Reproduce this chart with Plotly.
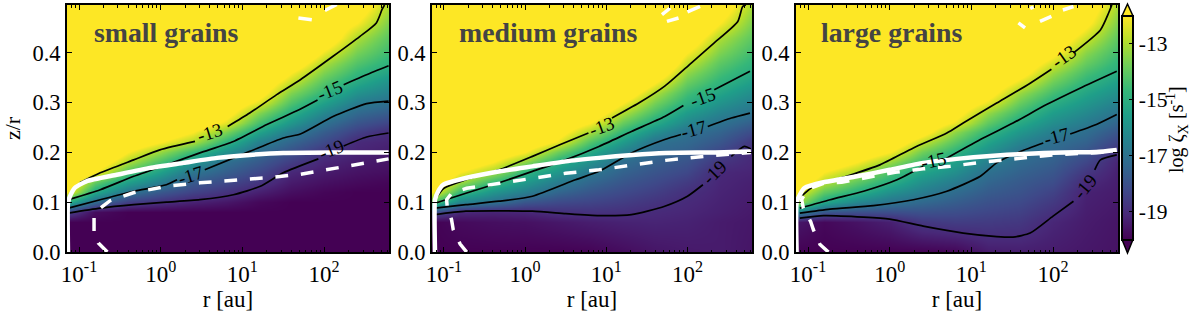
import plotly.graph_objects as go

W, H = 1200, 312
FONT = "Liberation Serif"

# log10(r/au) of the field columns and z/r of the field rows
col_logr = [-1.15, -0.8, -0.4, 0, 0.4, 0.8, 1.2, 1.6, 2, 2.4, 2.8]
rows = [0, .06, .08, .10, .12, .14, .16, .18, .20, .22, .24, .26, .28, .30, .32, .34, .36, .38, .40, .43, .46, .50]
# Values above the colour range, used over the yellow part of each column
above_range = [-11, -10]

# log zeta_X by column, from the midplane upward; rows above a list's end are saturated
small_field = [
    [-20,-20,-18.4,-15,-12],
    [-20,-20,-19.75,-17.25,-15.2,-13.9,-12],
    [-20,-20,-20,-18.5,-16.9,-15.5,-14.2,-13,-12],
    [-20,-20,-20,-18.9,-17.8,-16.6,-15.5,-14.4,-13.3,-12],
    [-20,-20,-20,-19.25,-18.4,-17.7,-16.9,-15.8,-14.6,-13,-12],
    [-20,-20,-20,-19.5,-18.8,-18.2,-17.6,-17.1,-16,-14.8,-13.6,-12.3,-11.5],
    [-20,-20,-20,-19.85,-19.3,-18.75,-18.25,-17.75,-17.25,-16.5,-15.4,-14.4,-13.5,-12.35,-11.5],
    [-20,-20,-20,-20,-19.7,-19.4,-19.1,-18.55,-18,-17.4,-16.7,-15.8,-15,-14.25,-13.55,-12.75,-12],
    [-20,-20,-20,-20,-19.9,-19.65,-19.4,-19.15,-18.8,-18.2,-17.65,-17.05,-16.3,-15.5,-14.75,-14.2,-13.6,-13,-12.2,-11],
    [-20,-20,-20,-20,-20,-19.8,-19.6,-19.4,-19.2,-19.05,-18.5,-17.9,-17.3,-16.65,-15.95,-15.25,-14.7,-14.2,-13.7,-13,-12,-11],
    [-20,-20,-20,-20,-20,-19.9,-19.7,-19.55,-19.35,-19.2,-19,-18.35,-17.7,-17.1,-16.5,-16,-15.4,-14.9,-14.55,-14.1,-13.6,-12.9],
]
medium_field = [
    [-20,-20,-18,-14.1,-12],
    [-20,-19.8,-19.1,-16.4,-14.65,-13.15,-12],
    [-20,-19.7,-19.2,-17,-15.85,-14.6,-13.1,-12],
    [-20,-19.65,-19.15,-17.85,-16.6,-15.7,-14.8,-13.4,-12],
    [-20,-19.5,-18.9,-18.2,-17.4,-16.65,-15.8,-15,-13.8,-12.2,-11.5],
    [-19.95,-19.35,-18.85,-18.35,-17.85,-17.35,-16.8,-16,-15.2,-14.2,-13.05,-12],
    [-19.75,-19.25,-18.9,-18.55,-18.2,-17.85,-17.5,-17.15,-16.55,-15.65,-14.75,-13.9,-13,-12],
    [-19.55,-19.2,-19.05,-18.8,-18.5,-18.2,-17.9,-17.6,-17.3,-17,-16.05,-15.15,-14.4,-13.7,-13,-12],
    [-19.45,-19.25,-19.15,-19.05,-18.9,-18.6,-18.25,-17.95,-17.6,-17.3,-17,-16.3,-15.65,-14.95,-14.45,-13.9,-13.35,-12.7,-12],
    [-19.4,-19.4,-19.3,-19.25,-19.2,-19.15,-19.1,-18.75,-18.3,-17.85,-17.45,-17,-16.45,-15.9,-15.35,-14.85,-14.45,-14.05,-13.6,-13,-12,-11],
    [-19.55,-19.5,-19.45,-19.4,-19.35,-19.3,-19.2,-19.1,-19.05,-18.7,-18.15,-17.6,-17,-16.55,-16.1,-15.6,-15.15,-14.8,-14.5,-14.05,-13.6,-13],
]
large_field = [
    [-20,-19.5,-16.4,-13,-12],
    [-20,-19.85,-17.85,-15.25,-14,-12.85,-12],
    [-20,-19.6,-18.05,-16.3,-14.95,-14,-13,-12],
    [-20,-19.3,-18.1,-16.9,-15.95,-15,-14.3,-13.25,-12],
    [-20,-18.7,-18,-17.3,-16.6,-16,-15.35,-14.6,-13.75,-12.7,-11.5],
    [-19.9,-18.55,-18.1,-17.65,-17.2,-16.65,-16.05,-15.5,-14.85,-14.1,-13.35,-12.2,-11.5],
    [-19.4,-18.6,-18.3,-18,-17.7,-17.4,-17.05,-16.55,-16,-15.4,-14.75,-14,-13.3,-12.25,-11.5],
    [-19.35,-18.7,-18.45,-18.2,-17.95,-17.75,-17.5,-17.25,-17,-16.4,-15.8,-15.2,-14.55,-13.9,-13.25,-12.35,-11.5],
    [-19.4,-19.15,-18.9,-18.65,-18.4,-18.1,-17.85,-17.6,-17.35,-17.1,-16.6,-16.1,-15.6,-15.05,-14.45,-13.85,-13.25,-12.5,-11.7],
    [-19.5,-19.4,-19.35,-19.3,-19.25,-19.05,-18.7,-18.3,-17.9,-17.5,-17.15,-16.7,-16.25,-15.8,-15.35,-14.85,-14.4,-13.9,-13.45,-12.6,-11.7,-11],
    [-19.6,-19.55,-19.5,-19.45,-19.4,-19.35,-19.3,-19.2,-18.9,-18.4,-17.9,-17.45,-16.95,-16.5,-16.05,-15.6,-15.15,-14.8,-14.5,-14.05,-13.6,-13],
]

# Black contours, (log10 r, z/r), broken where the inline label sits
small_m13 = ([-.99,-.74,-.33,-.01,.42,None,.82,1.09,1.42,1.71,2.11,2.44,2.64,2.71,2.74],
             [.139,.159,.185,.205,.222,None,.252,.279,.316,.346,.393,.433,.46,.487,.496])
small_m15 = ([-1.13,-.74,-.33,.07,.48,.89,1.3,1.7,1.92,None,2.24,2.52,2.79],
             [.105,.125,.152,.175,.199,.222,.256,.286,.305,None,.336,.356,.374])
small_m17 = ([-1.13,-.74,-.33,.07,.2,None,.54,1.09,1.5,1.71,2.11,2.52,2.79],
             [.088,.105,.122,.135,.145,None,.165,.202,.229,.237,.272,.298,.303])
small_m19 = ([-1.13,-.74,-.33,.07,.48,.89,1.22,1.5,1.93,None,2.24,2.52,2.79],
             [.078,.088,.095,.1,.105,.115,.132,.159,.187,None,.213,.231,.239])
medium_m13 = ([-1.11,-1,-.73,-.32,.09,.42,.78,None,1.07,1.4,1.72,2.05,2.33,2.62,2.68,2.72],
              [.105,.128,.145,.165,.192,.215,.239,None,.269,.299,.333,.38,.42,.463,.493,.496])
medium_m15 = ([-1.11,-.73,-.32,.09,.5,.91,1.31,1.72,1.95,None,2.33,2.77],
              [.098,.118,.139,.162,.185,.212,.242,.272,.294,None,.326,.363])
medium_m17 = ([-1.11,-.73,-.32,.09,.62,.91,1.31,1.72,1.92,None,2.25,2.54,2.77],
              [.088,.095,.102,.112,.145,.162,.199,.226,.236,None,.252,.269,.279])
medium_m19 = ([-1.11,-.73,.09,.5,.91,1.31,1.72,2,2.19,None,2.54,2.7,2.78],
              [.075,.082,.082,.077,.073,.075,.092,.112,.135,None,.192,.212,.207])
large_m13 = ([-1.08,-.93,-.53,-.12,.29,.7,.9,1.31,1.72,1.98,None,2.25,2.58,2.68,2.72],
             [.112,.132,.152,.175,.209,.239,.259,.299,.339,.367,None,.40,.446,.48,.496])
large_m15 = ([-1.1,-.73,-.32,.09,.41,None,.66,1.11,1.51,1.92,2.33,2.78],
             [.088,.105,.122,.145,.172,None,.185,.226,.259,.296,.329,.363])
large_m17 = ([-1.1,-.73,-.2,.29,.7,1.11,1.31,1.6,1.88,None,2.21,2.53,2.78],
             [.078,.086,.093,.105,.122,.152,.179,.202,.219,None,.237,.256,.276])
large_m19 = ([-1.1,-.81,-.32,0,.41,.9,1.31,1.51,1.72,2,2.25,None,2.51,2.58,2.78],
             [.068,.073,.07,.066,.052,.038,.031,.03,.038,.072,.102,None,.165,.185,.195])

# White solid curves
small_white = ([-1.135,-1.135,-1.11,-1.05,-.91,-.54,-.13,.28,.69,1.09,1.5,2.11,2.79],
               [0,.098,.112,.129,.142,.155,.169,.179,.189,.195,.199,.2,.2])
medium_white = ([-1.11,-1.11,-1.07,-1.01,-.72,-.31,.09,.5,.91,1.32,1.73,2.34,2.78],
                [0,.105,.122,.135,.149,.162,.172,.182,.189,.195,.199,.2,.202])
large_white = ([-1.14,-1.14,-1.1,-1.04,-.81,-.4,0,.41,.82,1.23,1.64,2.13,2.53,2.78],
               [0,.098,.115,.129,.14,.152,.165,.179,.187,.193,.197,.2,.201,.205])

# White dashed curves
small_dash = ([-.653,-.763,-.816,-.816,-.763,-.62,-.335,.073,.48,.89,1.3,1.71,2.11,2.52,2.79],
              [0,.018,.0415,.0696,.085,.103,.119,.132,.139,.144,.149,.156,.168,.18,.187])
medium_dash = ([-.72,-.8,-.886,-.906,-.96,-.967,-.906,-.72,-.31,.09,.5,.91,1.32,1.73,2.13,2.54,2.78],
               [0,.016,.045,.065,.092,.105,.118,.128,.138,.148,.158,.165,.174,.184,.191,.197,.2])
large_dash = ([-.75,-.853,-.935,-.967,-1.057,-1.078,-1.016,-.81,-.588,-.26,.065,.41,.74,1.065,1.39,1.7,2,2.575,2.78],
              [0,.015,.045,.061,.088,.105,.125,.138,.14,.15,.16,.167,.172,.179,.185,.191,.195,.2,.203])

# White dash fragments near the top of each panel
small_top = ([1.686,1.85,None,2.01,2.155], [.47,.4665,None,.485,.497])
medium_top = ([1.788,1.686,None,1.747,1.89,None,2.0,2.155], [.49,.4766,None,.463,.47,None,.482,.493])
large_top = ([1.576,1.657,None,1.84,1.98,None,2.12,2.25,None,1.72,1.76], [.46,.45,None,.463,.473,None,.486,.493,None,.489,.492])

# Inline contour labels: text, log10 r, z/r, angle
small_labels = [("-13",.60,.24,-18),("-15",2.07,.325,-22),("-17",.36,.154,-17),("-19",2.09,.205,-22)]
medium_labels = [("-13",.94,.252,-20),("-15",2.18,.311,-20),("-17",2.07,.246,-15),("-19",2.33,.159,-45)]
large_labels = [("-13",2.13,.393,-35),("-15",.535,.183,-12),("-17",2.04,.231,-15),("-19",2.39,.132,-50)]

panel_titles = ["small grains", "medium grains", "large grains"]
title_px = [92, 457, 819]
x_tick_vals = [.1, 1, 10, 100]
x_tick_text = ["10<sup>-1</sup>", "10<sup>0</sup>", "10<sup>1</sup>", "10<sup>2</sup>"]
y_tick_vals = [0, .1, .2, .3, .4]
cbar_ticks = [-13, -15, -17, -19]
cbar_text = ["-13", "-15", "-17", "-19"]

domains = [(67, 389), (432, 752), (796, 1118)]
panels = [
    (small_field, (small_m13, small_m15, small_m17, small_m19), small_white, small_dash, small_top, small_labels),
    (medium_field, (medium_m13, medium_m15, medium_m17, medium_m19), medium_white, medium_dash, medium_top, medium_labels),
    (large_field, (large_m13, large_m15, large_m17, large_m19), large_white, large_dash, large_top, large_labels),
]


def au(values):
    return [None if v is None else 10 ** v for v in values]


def filled(col):
    n = len(rows) - len(col)
    pad = (above_range + [above_range[-1]] * n)[:n]
    return col + pad


fig = go.Figure()
annotations = []
minor_vals = [m * 10 ** e for e in (-2, -1, 0, 1, 2) for m in range(2, 10)]
layout_axes = {}
for i, (field, contours, white, dash, top, labels) in enumerate(panels):
    n = "" if i == 0 else str(i + 1)
    xa, ya = "x" + n, "y" + n
    fig.add_trace(go.Heatmap(
        x=au(col_logr), y=rows, z=[filled(c) for c in field], transpose=True, xaxis=xa, yaxis=ya,
        zmin=-20, zmax=-12, colorscale="Viridis", zsmooth="best",
        showscale=(i == 2), hoverinfo="skip",
        colorbar=dict(x=1122 / W, xanchor="left", y=1 - 127.75 / H, yanchor="middle",
                      lenmode="pixels", len=223.5, thickness=11, thicknessmode="pixels",
                      xpad=0, ypad=0, outlinewidth=2, outlinecolor="black",
                      tickmode="array", tickvals=cbar_ticks, ticktext=cbar_text,
                      ticks="inside", ticklen=5, tickcolor="black",
                      tickfont=dict(family=FONT, size=21.5, color="black")),
    ))
    for lx, ly in contours:
        fig.add_trace(go.Scatter(x=au(lx), y=ly, xaxis=xa, yaxis=ya, mode="lines",
                                 line=dict(color="black", width=1.7, shape="spline", smoothing=0.6),
                                 showlegend=False, hoverinfo="skip"))
    fig.add_trace(go.Scatter(x=au(white[0]), y=white[1], xaxis=xa, yaxis=ya, mode="lines",
                             line=dict(color="white", width=4.5, shape="spline", smoothing=0.5),
                             showlegend=False, hoverinfo="skip"))
    fig.add_trace(go.Scatter(x=au(dash[0]), y=dash[1], xaxis=xa, yaxis=ya, mode="lines",
                             line=dict(color="white", width=3.5, dash="12.8px,12.8px"),
                             showlegend=False, hoverinfo="skip"))
    fig.add_trace(go.Scatter(x=au(top[0]), y=top[1], xaxis=xa, yaxis=ya, mode="lines",
                             line=dict(color="white", width=3.5),
                             showlegend=False, hoverinfo="skip"))
    for text, lx, ly, ang in labels:
        annotations.append(dict(x=lx, y=ly, xref=xa, yref=ya, text=text, showarrow=False,
                                textangle=ang, font=dict(family=FONT, size=19, color="black")))
    annotations.append(dict(x=title_px[i] / W, y=1 - 33 / H, xref="paper", yref="paper",
                            xanchor="left", yanchor="middle", text="<b>%s</b>" % panel_titles[i],
                            showarrow=False, font=dict(family=FONT, size=27.8, color="#444444")))
    d = domains[i]
    layout_axes["xaxis" + n] = dict(
        type="log", range=[-1.147, 2.795], domain=[d[0] / W, d[1] / W], anchor=ya,
        showline=True, linecolor="black", linewidth=2, mirror="allticks", showgrid=False, zeroline=False,
        ticks="inside", ticklen=5, tickwidth=1, tickcolor="black", tickmode="array",
        tickvals=x_tick_vals, ticktext=x_tick_text,
        tickfont=dict(family=FONT, size=23, color="black"),
        minor=dict(ticks="inside", ticklen=2.5, tickwidth=1, tickcolor="black", tickmode="array",
                   tickvals=minor_vals, showgrid=False),
        title=dict(text="r [au]", font=dict(family=FONT, size=23, color="black"), standoff=8),
        automargin=False,
    )
    layout_axes["yaxis" + n] = dict(
        range=[0, .496], domain=[1 - 252 / H, 1 - 5 / H], anchor=xa,
        showline=True, linecolor="black", linewidth=2, mirror="allticks", showgrid=False, zeroline=False,
        ticks="inside", ticklen=5, tickwidth=1, tickcolor="black", tickmode="array",
        tickvals=y_tick_vals, ticktext=["%.1f" % v for v in y_tick_vals],
        tickfont=dict(family=FONT, size=22.5, color="black"),
        automargin=False,
    )
    if i == 0:
        layout_axes["yaxis"]["title"] = dict(text="z/r", font=dict(family=FONT, size=22, color="black"), standoff=6)

annotations.append(dict(x=1193 / W, y=1 - 130 / H, xref="paper", yref="paper", showarrow=False, textangle=-90,
                        text="log ζ<sub>X</sub> [s<sup>-1</sup>]",
                        font=dict(family=FONT, size=20, color="black")))


def pt(px, py):
    return "%.5f,%.5f" % (px / W, 1 - py / H)


shapes = [
    dict(type="path", xref="paper", yref="paper", fillcolor="#fde725", line=dict(color="black", width=1.5),
         path="M%s L%s L%s Z" % (pt(1122, 16), pt(1127.5, 4), pt(1133, 16))),
    dict(type="path", xref="paper", yref="paper", fillcolor="#440154", line=dict(color="black", width=1.5),
         path="M%s L%s L%s Z" % (pt(1122, 239.5), pt(1127.5, 253), pt(1133, 239.5))),
]

fig.update_layout(width=W, height=H, margin=dict(l=0, r=0, t=0, b=0), paper_bgcolor="white",
                  plot_bgcolor="white", showlegend=False, annotations=annotations, shapes=shapes,
                  **layout_axes)
fig.write_html("out.html", config=dict(displayModeBar=False),
               post_script="document.body.style.margin='0';document.documentElement.style.overflow='hidden';")
